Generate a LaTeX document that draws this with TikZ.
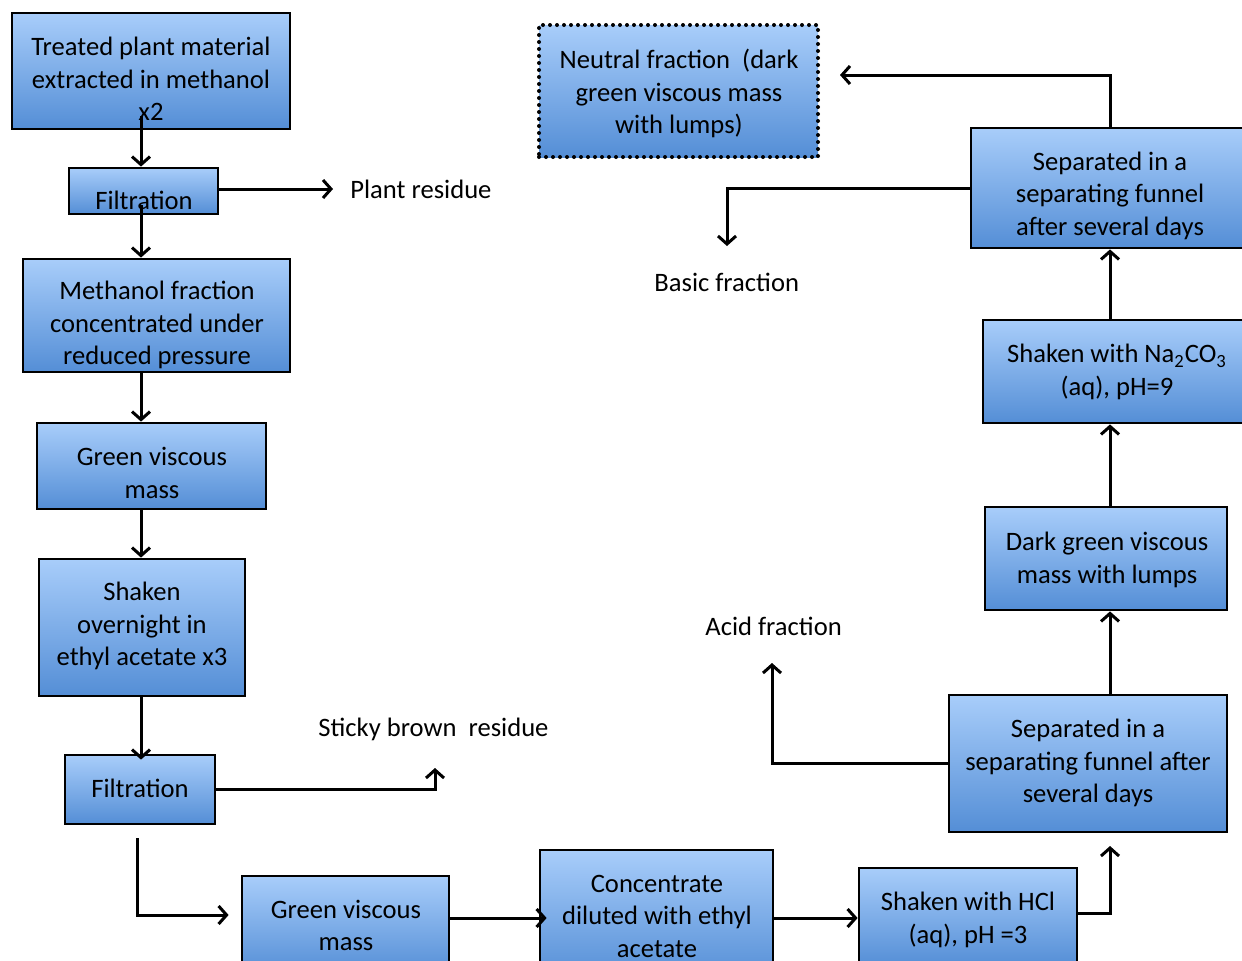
\documentclass[tikz,border=0pt]{standalone}
\usepackage{fontspec}
\setmainfont{Carlito}
\usetikzlibrary{arrows.meta,fit,calc}
\definecolor{btop}{RGB}{168,205,250}
\definecolor{bbot}{RGB}{84,142,214}
\begin{document}
\begin{tikzpicture}[x=0.5pt,y=-0.5pt,
  box/.style={draw=black, line width=1.4pt, top color=btop, bottom color=bbot, inner sep=0pt},
  dotbox/.style={box, line width=2pt, dash pattern=on 0pt off 3.5pt, line cap=round},
  txt/.style={inner sep=0pt, align=center, font=\fontsize{13.3}{16.25}\selectfont},
  arr/.style={line width=1.5pt, -{Straight Barb[length=4pt,width=9pt,line width=1.5pt]}},
  lab/.style={font=\fontsize{13.3}{16.25}\selectfont, inner sep=0pt, anchor=west}]
\useasboundingbox (0,0) rectangle (1242,960);
\clip (0,0) rectangle (1242,960);
% left column
\node[box, fit={(12,13)(290,129)}] (b1) {};
\node[txt] (b1t) at (151,79) {Treated plant material\\extracted in methanol\\x2};
\node[box, fit={(69,168)(218,214)}] (f1) {};
\node[txt] (f1t) at (144,200) {Filtration};
\node[box, fit={(23,259)(290,372)}] (m) {};
\node[txt] (mt) at (157,325) {Methanol fraction\\concentrated under\\reduced pressure};
\node[box, fit={(37,423)(266,509)}] (g1) {};
\node[txt] (g1t) at (152,473) {Green viscous\\mass};
\node[box, fit={(39,559)(245,696)}] (sh) {};
\node[txt] (sht) at (142,626) {Shaken\\overnight in\\ethyl acetate x3};
\node[box, fit={(65,755)(215,824)}] (f2) {};
\node[txt] (f2t) at (140,788) {Filtration};
% bottom row
\node[box, fit={(242,876)(449,974)}] (g2) {};
\node[txt] (g2t) at (346,925.5) {Green viscous\\mass};
\node[box, fit={(540,850)(773,980)}] (c) {};
\node[txt] (ct) at (657,916) {Concentrate\\diluted with ethyl\\acetate};
\node[box, fit={(859,868)(1077,966)}] (h) {};
\node[txt] (ht) at (968,920) {Shaken with HCl\\(aq), pH =3};
% right column
\node[box, fit={(949,695)(1227,832)}] (s1) {};
\node[txt] (s1t) at (1088,763) {Separated in a\\separating funnel after\\several days};
\node[box, fit={(985,507)(1227,610)}] (dg) {};
\node[txt] (dgt) at (1107,560) {Dark green viscous\\mass with lumps};
\node[box, fit={(983,320)(1251,423)}] (na) {};
\node[txt] (nat) at (1117,372) {Shaken with Na\textsubscript{2}CO\textsubscript{3}\\(aq), pH=9};
\node[box, fit={(971,128)(1249,248)}] (s2) {};
\node[txt] (s2t) at (1110,195.5) {Separated in a\\separating funnel\\after several days};
\node[dotbox, fit={(539,25)(818,157)}] (nf) {};
\node[txt] (nft) at (679,93.5) {Neutral fraction\ \ (dark\\green viscous mass\\with lumps)};
% labels
\node[lab] (pr) at (350,189) {Plant residue};
\node[lab] (bf) at (654,282) {Basic fraction};
\node[lab] (af) at (705,626) {Acid fraction};
\node[lab] (sb) at (318,729) {Sticky brown\ \ residue};
% helper coordinates
\coordinate (xL) at (141,0);
\coordinate (xR) at (1110,0);
\coordinate (yb) at (0,918);
\coordinate (prt) at (333,189);
\coordinate (sbt) at (435,768);
\coordinate (fs) at (137,838);
\coordinate (hct) at (1110,846);
\coordinate (act) at (772,663);
\coordinate (nt) at (840,75);
\coordinate (bft) at (727,246);
% connectors
\draw[arr] ([yshift=7pt]b1.south -| xL) -- (f1.north -| xL);
\draw[arr] (f1.east |- prt) -- (prt);
\draw[arr] ([yshift=5pt]f1.south -| xL) -- (m.north -| xL);
\draw[arr] (m.south -| xL) -- (g1.north -| xL);
\draw[arr] (g1.south -| xL) -- (sh.north -| xL);
\draw[arr] (sh.south -| xL) -- ([yshift=-3pt]f2.north -| xL);
\draw[arr] (f2.east) -| (sbt);
\draw[arr, shorten >=6pt] (fs) |- ([yshift=5pt]g2.west);
\draw[arr] (g2.east |- yb) -- ([xshift=4pt]c.west |- yb);
\draw[arr] (c.east |- yb) -- (h.west |- yb);
\draw[arr] ([yshift=2pt]h.east) -| (hct);
\draw[arr] (s1.west) -| (act);
\draw[arr] (s1.north -| xR) -- (dg.south -| xR);
\draw[arr] (dg.north -| xR) -- (na.south -| xR);
\draw[arr] (na.north -| xR) -- (s2.south -| xR);
\draw[arr] (s2.north -| xR) |- (nt);
\draw[arr] (s2.west) -| (bft);
\end{tikzpicture}
\end{document}
